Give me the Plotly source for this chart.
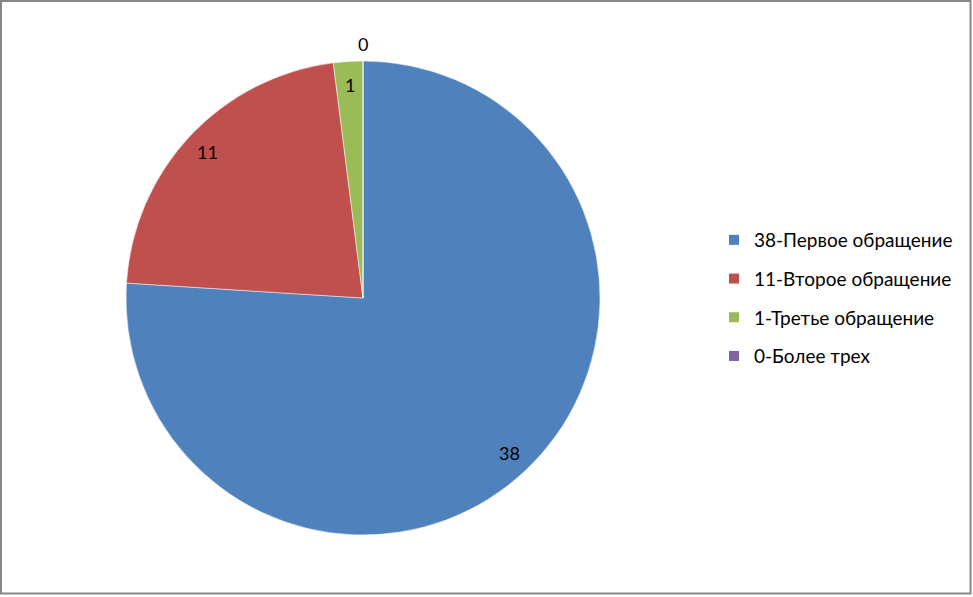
import math
import plotly.graph_objects as go

labels = ['38-Первое обращение', '11-Второе обращение', '1-Третье обращение', '0-Более трех']
values = [38, 11, 1, 0]
colors = ['#4F81BD', '#C0504D', '#9BBB59', '#8064A2']

W, H = 973, 597
cx_px, cy_px, r_px = 363, 298, 237
FONT = 'Lato, Carlito, Calibri, sans-serif'

dom_x = [(cx_px - r_px) / W, (cx_px + r_px) / W]
dom_y = [(H - cy_px - r_px) / H, (H - cy_px + r_px) / H]

fig = go.Figure()
fig.add_trace(go.Pie(
    labels=labels, values=values, sort=False, direction='clockwise', rotation=0,
    marker=dict(colors=colors, line=dict(color='white', width=0.5)),
    textinfo='none', hoverinfo='label+value', showlegend=False,
    domain=dict(x=dom_x, y=dom_y),
))

# legend entries as dummy traces so gaps can be set
for i, (lab, col) in enumerate(zip(labels, colors)):
    fig.add_trace(go.Scatter(
        x=[None], y=[None], mode='markers', name=lab, legendgroup=f'g{i}',
        marker=dict(symbol='square', size=10, color=col),
    ))

# data labels: inside end (0.9 r), zero slices placed outside
total = sum(values)
anns = []
cum = 0
for v in values:
    mid = (cum + v / 2) / total * 2 * math.pi
    cum += v
    rr = r_px * (0.9 if v > 0 else 1.07)
    x = (cx_px + rr * math.sin(mid)) / W
    y = (H - cy_px + rr * math.cos(mid)) / H
    anns.append(dict(x=x, y=y, xref='paper', yref='paper', text=str(v), showarrow=False,
                     xanchor='center', yanchor='middle',
                     font=dict(size=18, color='black', family=FONT)))

fig.update_layout(
    width=W, height=H,
    margin=dict(l=0, r=0, t=0, b=0),
    paper_bgcolor='white', plot_bgcolor='white',
    font=dict(family=FONT, size=19, color='black'),
    xaxis=dict(visible=False), yaxis=dict(visible=False),
    annotations=anns,
    legend=dict(x=714 / W, y=1 - 298 / H, xanchor='left', yanchor='middle',
                tracegroupgap=11, font=dict(size=19), itemclick=False),
    shapes=[dict(type='rect', xref='paper', yref='paper',
                 x0=1 / W, x1=970.5 / W, y0=(H - 593.5) / H, y1=1 - 1 / H,
                 line=dict(color='#868686', width=2))],
)

fig.write_html('out.html', config={'displayModeBar': False},
               post_script="document.body.style.margin='0';")
